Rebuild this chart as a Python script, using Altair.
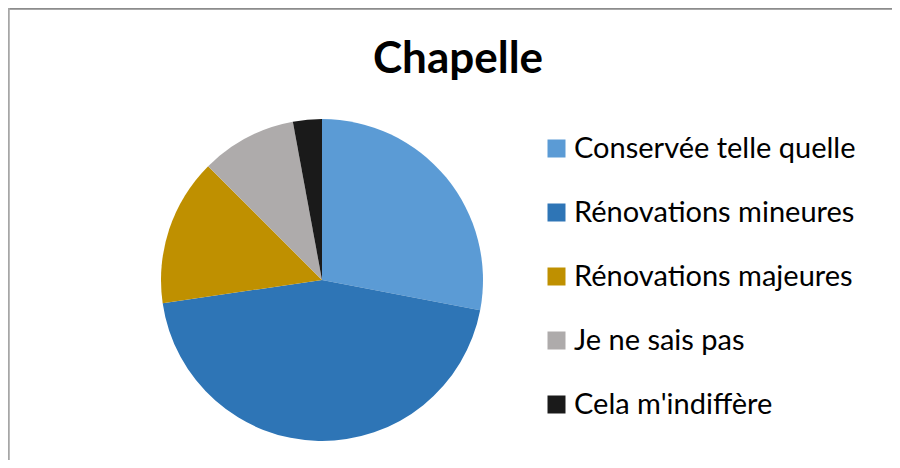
import altair as alt
import pandas as pd

categories = ["Conservée telle quelle", "Rénovations mineures", "Rénovations majeures",
              "Je ne sais pas", "Cela m'indiffère"]
values = [28.0, 44.7, 14.8, 9.6, 2.9]
colors = ["#5B9BD5", "#2E75B6", "#BF9000", "#AEABAB", "#1A1A1A"]

df = pd.DataFrame({"cat": categories, "val": values, "ord": list(range(len(categories)))})

W, H = 884, 452

pie = alt.Chart(df).mark_arc(radius=161).encode(
    theta=alt.Theta("val:Q", stack=True),
    order=alt.Order("ord:Q"),
    color=alt.Color(
        "cat:N",
        sort=categories,
        scale=alt.Scale(domain=categories, range=colors),
        legend=alt.Legend(
            title=None,
            orient="none",
            legendX=534,
            legendY=126,
            symbolType="square",
            symbolSize=324,
            symbolStrokeWidth=0,
            labelFontSize=29,
            labelFont="Lato",
            labelColor="#000000",
            labelLimit=400,
            labelOffset=3,
            rowPadding=34,
        ),
    ),
    x=alt.value(314),
    y=alt.value(272),
)

border_top = alt.Chart(df).mark_rule(color="#8c8c8c", strokeWidth=1.5).encode(
    x=alt.value(0), x2=alt.value(W), y=alt.value(0.5), y2=alt.value(0.5)
)
border_left = alt.Chart(df).mark_rule(color="#a6a6a6", strokeWidth=1.5).encode(
    x=alt.value(0.5), x2=alt.value(0.5), y=alt.value(0), y2=alt.value(H)
)

chart = alt.layer(pie, border_top, border_left).properties(
    width=W,
    height=H,
    padding=0,
    autosize=alt.AutoSizeParams(type="none"),
    title=alt.TitleParams(
        "Chapelle", font="Lato", fontSize=44, fontWeight="bold", color="#000000",
        anchor="middle", dx=8, offset=-75,
    ),
).configure_view(stroke=None)

chart.save("out.html", embed_options={"renderer": "svg", "actions": False})
